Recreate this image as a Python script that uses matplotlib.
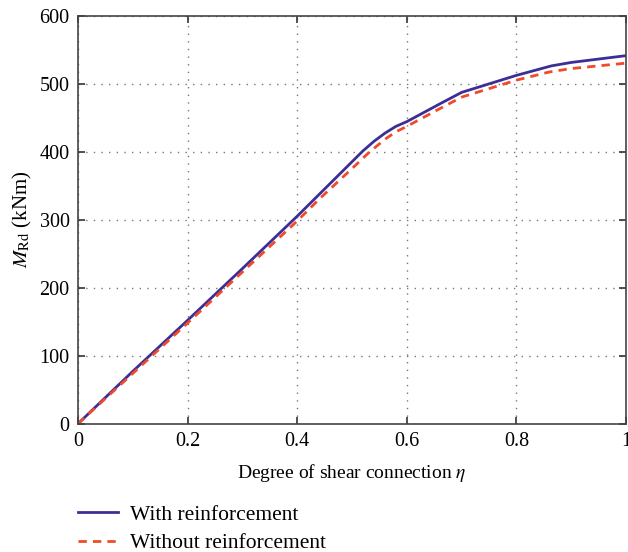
import matplotlib
matplotlib.use("Agg")
import matplotlib.pyplot as plt

plt.rcParams["font.family"] = ["Liberation Serif", "DejaVu Serif"]
plt.rcParams["mathtext.fontset"] = "stix"

# Degree of shear connection vs. moment resistance
eta_with = [0, 0.1, 0.2, 0.3, 0.4, 0.44, 0.5, 0.52, 0.54, 0.56, 0.58, 0.6,
            0.66, 0.7, 0.8, 0.864, 0.9, 1.0]
m_with = [0, 77, 152, 228, 305, 337, 385, 401, 415, 427, 437, 444,
          470, 487, 512, 526, 531, 541]

eta_without = [0, 0.1, 0.2, 0.3, 0.4, 0.44, 0.5, 0.53, 0.56, 0.58, 0.6,
               0.66, 0.7, 0.8, 0.86, 0.9, 1.0]
m_without = [0, 74, 148, 223, 298, 330, 375, 398, 418, 429, 437,
             463, 480, 505, 517, 522, 530]

xticks = [0, 0.2, 0.4, 0.6, 0.8, 1]
xtick_labels = ["0", "0.2", "0.4", "0.6", "0.8", "1"]
yticks = [0, 100, 200, 300, 400, 500, 600]

fig = plt.figure(figsize=(6.28, 5.52), dpi=100)
ax = fig.add_axes([0.1242, 0.2324, 0.8726, 0.7395])

l1, = ax.plot(eta_with, m_with, color="#3b2f96", lw=2.0, label="With reinforcement")
l2, = ax.plot(eta_without, m_without, color="#f04a2a", lw=2.0, ls=(0, (3, 2.2)),
              label="Without reinforcement")

ax.set_xlim(0, 1)
ax.set_ylim(0, 600)
ax.set_xticks(xticks)
ax.set_xticklabels(xtick_labels)
ax.set_yticks(yticks)
ax.tick_params(direction="in", top=True, right=True, length=5, width=1.2,
               labelsize=14.5, color="#333333", pad=6)
for s in ax.spines.values():
    s.set_color("#444444")
    s.set_linewidth(1.2)
ax.grid(True, ls=(0, (1, 4.5)), color="#777777", lw=1.0)

ax.set_xlabel(r"Degree of shear connection $\eta$", fontsize=14, labelpad=8)
ax.set_ylabel(r"$M_{\mathrm{Rd}}$ (kNm)", fontsize=15, labelpad=4)

fig.legend(handles=[l1, l2], loc="upper left", bbox_to_anchor=(0.124, 0.086),
           frameon=False, fontsize=15.5, handlelength=1.85, handletextpad=0.55,
           labelspacing=0.4, borderaxespad=0, borderpad=0)

fig.savefig("out.png", dpi=100)
